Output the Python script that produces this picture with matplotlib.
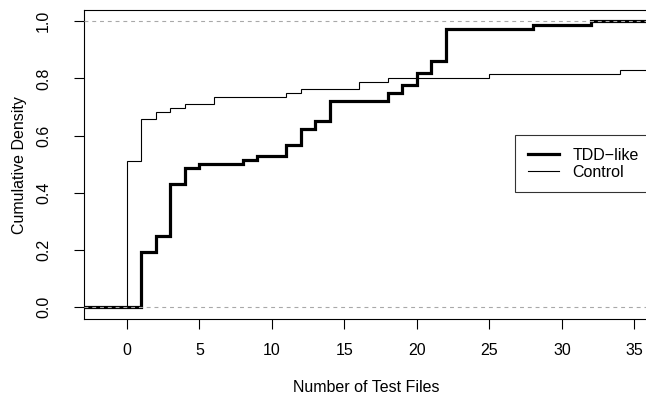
import matplotlib
matplotlib.use("Agg")
import matplotlib.pyplot as plt
from matplotlib.lines import Line2D

plt.rcParams["font.family"] = ["Liberation Sans", "DejaVu Sans"]

# Empirical CDF steps: x where the curve jumps, and the cumulative share after the jump
tdd_x = [1, 2, 3, 4, 5, 8, 9, 11, 12, 13, 14, 18, 19, 20, 21, 22, 28, 32]
tdd_y = [0.194, 0.250, 0.431, 0.486, 0.500, 0.514, 0.528, 0.569, 0.625,
         0.653, 0.722, 0.750, 0.778, 0.819, 0.861, 0.972, 0.986, 1.000]

ctrl_x = [0, 1, 2, 3, 4, 6, 11, 12, 16, 18, 25, 34]
ctrl_y = [0.513, 0.658, 0.684, 0.697, 0.711, 0.737, 0.750, 0.763,
          0.789, 0.803, 0.816, 0.829]

series_labels = ["TDD\u2212like", "Control"]
x_ticks = [0, 5, 10, 15, 20, 25, 30, 35]
y_ticks = [0.0, 0.2, 0.4, 0.6, 0.8, 1.0]

FS = 11.5
W, H = 646, 398
fig = plt.figure(figsize=(W / 100, H / 100), dpi=100)

# plot region in pixels
left_px, right_px, top_px, bottom_px = 84.3, 649.0, 10.0, 319.3
ax = fig.add_axes([left_px / W, 1 - bottom_px / H,
                   (right_px - left_px) / W, (bottom_px - top_px) / H])

xmin, xmax = -2.94, 36.0
ax.set_xlim(xmin, xmax)
ax.set_ylim(-0.042, 1.0395)


def step_curve(xs, ys, lo, hi):
    px = [lo] + [v for v in xs for _ in (0, 1)] + [hi]
    py = [0.0, 0.0]
    for v in ys:
        py += [v, v]
    return px, py[:len(px)]


cx, cy = step_curve(ctrl_x, ctrl_y, xmin, xmax)
tx, ty = step_curve(tdd_x, tdd_y, xmin, xmax)

ax.plot(cx, cy, color="black", lw=0.8, solid_joinstyle="miter", zorder=3)
ax.plot(tx, ty, color="black", lw=2.3, solid_joinstyle="miter", zorder=3)

for h in (0.0, 1.0):
    ax.axhline(h, color="#a8a8a8", lw=0.8, ls=(0, (3.5, 3.5)), zorder=4)

ax.set_xticks(x_ticks)
ax.set_yticks(y_ticks)
ax.set_xticklabels([str(v) for v in x_ticks])
ax.set_yticklabels([f"{v:.1f}" for v in y_ticks], rotation=90, va="center")
ax.tick_params(axis="x", length=7, width=0.8, pad=10.0, labelsize=FS)
ax.tick_params(axis="y", length=7, width=0.8, pad=17.0, labelsize=FS)

for s in ax.spines.values():
    s.set_linewidth(0.8)
ax.spines["right"].set_visible(False)

ax.set_xlabel("Number of Test Files", fontsize=FS)
ax.set_ylabel("Cumulative Density", fontsize=FS)
ax.xaxis.set_label_coords(0.5, (bottom_px - 387) / (bottom_px - top_px))
ax.yaxis.set_label_coords((20 - left_px) / (right_px - left_px), 0.5)
ax.xaxis.label.set_va("center")
ax.yaxis.label.set_va("center")

handles = [Line2D([], [], color="black", lw=2.3),
           Line2D([], [], color="black", lw=0.8)]
leg = ax.legend(handles, series_labels, loc="upper left",
                bbox_to_anchor=((515 - left_px) / (right_px - left_px),
                                (bottom_px - 135) / (bottom_px - top_px)),
                borderaxespad=0, fontsize=FS, frameon=True, fancybox=False,
                edgecolor="black", handlelength=1.95, handletextpad=0.85,
                borderpad=0.8, labelspacing=0.12)
leg.get_frame().set_linewidth(0.8)

fig.savefig("out.png", dpi=100)
